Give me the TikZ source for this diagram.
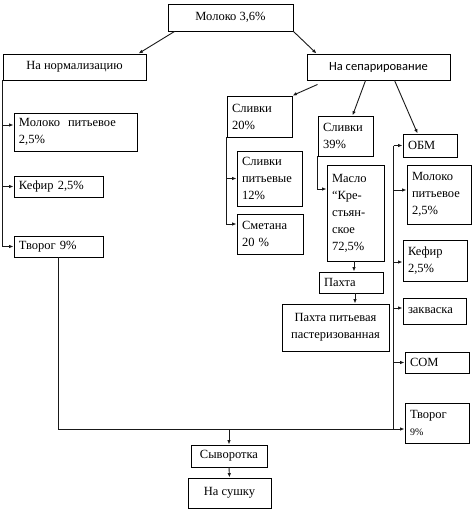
\documentclass[tikz,border=0pt]{standalone}
\usepackage{fontspec}
\setmainfont{Liberation Serif}
\newfontfamily\calibrifont{Carlito}
\usetikzlibrary{arrows.meta}
\tikzset{
  blk/.style={draw=black, line width=0.9pt, inner xsep=5pt, inner ysep=1pt, align=left, font=\fontsize{12.5}{17}\selectfont},
  conn/.style={draw=black!90, line width=0.9pt},
  arr/.style={-{Latex[length=4.5pt,width=3.5pt]}},
}
\begin{document}
\begin{tikzpicture}[x=1pt,y=-1pt]
                        \useasboundingbox (0,0) rectangle (474,512);
                        
                        % Box Молоко 3,6%
                        \node [blk, align=center, minimum width=125, minimum height=27] (milk) at (230.5,17.5) {Молоко 3,6\%};%
                        
                        % Boxes of the two ways
                        \node [blk, align=center, minimum width=143, minimum height=26] (norm) at (74.5,67) {На нормализацию};%
                        \node [blk, align=center, minimum width=143, minimum height=26, font=\calibrifont\fontsize{12.5}{17}\selectfont] (sep) at (378.5,67) {На сепарирование};%
                        
                        % Boxes after normalization
                        \node [blk, text width=113, minimum height=38] (mpit) at (75.5,132) {Молоко\hspace{8pt}питьевое\\2,5\%};%
                        \node [blk, text width=79, minimum height=21] (kef) at (58.5,186.5) {Кефир 2,5\%};%
                        \node [blk, text width=79, minimum height=21] (tvor) at (58.5,246.5) {Творог 9\%};%
                        
                        % Boxes of cream 20%
                        \node [blk, text width=55, minimum height=41] (sl20) at (259.5,116.5) {Сливки\\20\%};%
                        \node [blk, text width=55, minimum height=55] (slpit) at (269.5,178.5) {Сливки\\питьевые\\12\%};%
                        \node [blk, text width=56, minimum height=40] (smet) at (270,234) {Сметана\\20 \%};%
                        
                        % Boxes of cream 39%
                        \node [blk, text width=45, minimum height=40] (sl39) at (345.5,136) {Сливки\\39\%};%
                        \node [blk, text width=47, minimum height=96] (maslo) at (355.5,213) {Масло\\``Кре-\\стьян-\\ское\\72,5\%};%
                        \node [blk, text width=54, minimum height=21] (pahta) at (351,282.5) {Пахта};%
                        \node [blk, align=center, minimum width=107, minimum height=47] (pahtap) at (335.5,327.5) {Пахта питьевая\\пастеризованная};%
                        
                        % Boxes of skim milk
                        \node [blk, text width=44, minimum height=23] (obm) at (430,145.5) {ОБМ};%
                        \node [blk, text width=54, minimum height=59] (mpit2) at (439,194.5) {Молоко\\питьевое\\2,5\%};%
                        \node [blk, text width=54, minimum height=41] (kef2) at (435,260.5) {Кефир\\2,5\%};%
                        \node [blk, text width=53, minimum height=26] (zakv) at (434.5,311) {закваска};%
                        \node [blk, text width=54, minimum height=21] (som) at (437,362.5) {СОМ};%
                        \node [blk, text width=54, minimum height=40] (tvor2) at (437,423) {Творог\\{\fontsize{10}{12}\selectfont 9\%}};%
                        
                        % Boxes of whey
                        \node [blk, align=center, minimum width=76, minimum height=22] (syv) at (229,456) {Сыворотка};%
                        \node [blk, align=center, minimum width=83, minimum height=30] (sush) at (229.5,493) {На сушку};%
                        
                        % Drawing arrows from milk
                        \draw [conn, arr] ([xshift=7pt]milk.south west) -- ([xshift=-8pt]norm.north east);%
                        \draw [conn, arr] (milk.south east) -- ([xshift=10pt]sep.north west);%
                        
                        % Drawing arrows from separation
                        \draw [conn, arr] ([xshift=11pt,yshift=-4pt]sep.south west) -- (sl20.north east);%
                        \draw [conn, arr] ([xshift=59pt]sep.south west) -- ([xshift=35pt]sl39.north west);%
                        \draw [conn, arr] ([xshift=88pt]sep.south west) -- ([xshift=15pt]obm.north west);%
                        
                        % Drawing left column
                        \coordinate (m1) at ([yshift=7pt]mpit.west);%
                        \draw [conn, arr] (norm.south west) |- (tvor.west);%
                        \draw [conn, arr] (norm.south west |- m1) -- (m1);%
                        \draw [conn, arr] (norm.south west |- kef.west) -- (kef.west);%
                        
                        % Drawing cream 20% column
                        \coordinate (s1) at ([yshift=10pt]smet.west);%
                        \draw [conn, arr] (sl20.south west) |- (s1);%
                        \draw [conn, arr] (sl20.south west |- slpit.west) -- (slpit.west);%
                        
                        % Drawing cream 39% column
                        \coordinate (s2) at ([yshift=24pt]maslo.west);%
                        \draw [conn, arr] (sl39.south west) |- (s2);%
                        \draw [conn, arr] ([xshift=-1.5pt]maslo.south) -- ([xshift=-1.5pt]maslo.south |- pahta.north);%
                        \draw [conn, arr] ([xshift=4pt]pahta.south) -- ([xshift=4pt]pahta.south |- pahtap.north);%
                        
                        % Drawing skim milk column
                        \coordinate (sp) at ([xshift=-9pt]obm.west);%
                        \coordinate (t2) at ([yshift=-6pt]tvor2.west);%
                        \draw [conn] (sp) -- (sp |- t2);%
                        \draw [conn, arr] (sp) -- (obm.west);%
                        \foreach \n/\d in {mpit2/4.5, kef2/-1.5, zakv/3, som/0} {
                          \coordinate (e) at ([yshift=\d pt]\n.west);
                          \draw [conn, arr] (sp |- e) -- (e);%
                        }
                        
                        % Drawing whey line
                        \draw [conn, arr] (tvor.south) |- (t2);%
                        \draw [conn, arr] (syv.north |- t2) -- (syv.north);%
                        \draw [conn, arr] (syv.south) -- (sush.north);%
                    \end{tikzpicture}
\end{document}
